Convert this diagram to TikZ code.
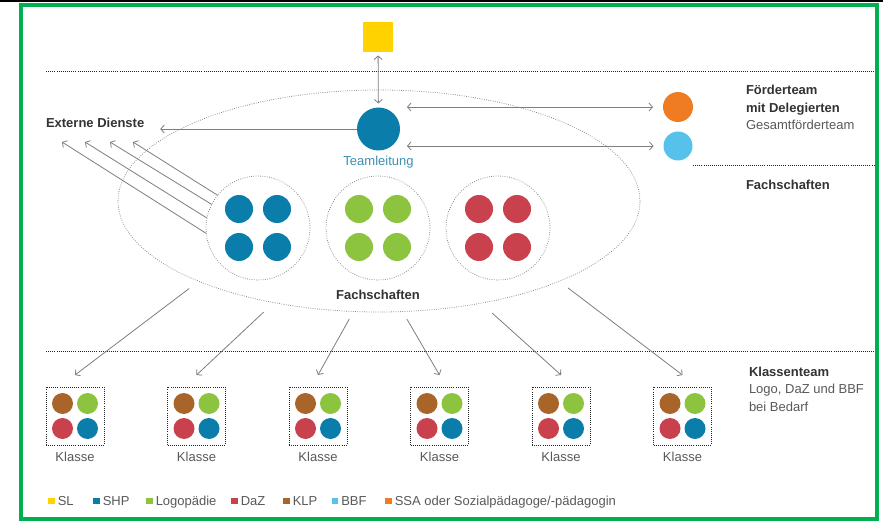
\documentclass[tikz,border=0pt]{standalone}
\usepackage{fontspec}
\setmainfont{Liberation Sans}
\usetikzlibrary{arrows.meta,shapes.geometric}
\definecolor{slyellow}{HTML}{FFD200}
\definecolor{shpblue}{HTML}{0A7DAB}
\definecolor{logogreen}{HTML}{8CC43F}
\definecolor{dazred}{HTML}{C9414D}
\definecolor{klpbrown}{HTML}{A9642A}
\definecolor{bbfblue}{HTML}{56C2EC}
\definecolor{ssaorange}{HTML}{EF7B22}
\definecolor{framegreen}{HTML}{00B050}
\definecolor{tlteal}{HTML}{3E8FB2}
\definecolor{arrowgray}{HTML}{7E7E7E}
\def\fourdots(#1,#2)(#3:#4)(#5:#6:#7:#8){%
	\fill[#5] ({#1-#3},{#2-#3}) circle (#4);
	\fill[#6] ({#1+#3},{#2-#3}) circle (#4);
	\fill[#7] ({#1-#3},{#2+#3}) circle (#4);
	\fill[#8] ({#1+#3},{#2+#3}) circle (#4);}

\begin{document}
\begin{tikzpicture}[x=1pt, y=-1pt,
		>={Straight Barb[length=3.5pt,width=8pt]},
		every node/.style={font=\fontsize{13}{16}\selectfont, inner sep=0pt, outer sep=0pt},
		hd/.style={font=\fontsize{13}{16}\selectfont\bfseries, text=black!80},
		txt/.style={text=black!65},
		conn/.style={draw=arrowgray, line width=0.8pt},
		dotrule/.style={draw=black!85, line width=0.9pt, dash pattern=on 0.9pt off 1.2pt},
		ring/.style={draw=black!50, line width=0.75pt, dash pattern=on 0.75pt off 1.5pt}]
			%%%%% START %%%%%
			
			\useasboundingbox (0,0) rectangle (883,521);
			\fill[white] (0,0) rectangle (883,521);
			\fill[black] (0,0) rectangle (883,2.5);
			\draw[framegreen, line width=4pt] (20.5,5.5) rectangle (877,518.5);
			
			\draw[dotrule] (46,71) -- (874,71);
			\draw[dotrule] (693,165) -- (874,165);
			\draw[dotrule] (46,351) -- (874,351);
			
			\node[fill=slyellow, minimum size=30pt] (sl) at (378,37.5) {};
			\node[circle, fill=shpblue, minimum size=43pt] (tl) at (378.5,129) {};
			\node[anchor=base, text=tlteal] (tllabel) at (378.5,165.5) {Teamleitung};
			\node[circle, fill=ssaorange, minimum size=30pt] (ssa) at (678,107) {};
			\node[circle, fill=bbfblue, minimum size=29pt] (bbf) at (678,146) {};
			\node[hd, anchor=base west] (ext) at (46,127.5) {Externe Dienste};
			
			\node[ellipse, ring, minimum width=522pt, minimum height=222pt] (fs) at (379,201) {};
			\foreach \g/\x/\c in {1/258/shpblue, 2/378/logogreen, 3/498/dazred}{
				\node[circle, ring, minimum size=104pt] (g\g) at (\x,228) {};
				\fourdots(\x,228)(19:14)(\c:\c:\c:\c)
			}
			\node[hd, anchor=base] (fslabel) at (378,299) {Fachschaften};
			
			\draw[conn, <->, shorten <=3pt, shorten >=4pt] (sl) -- (tl);
			\draw[conn, ->, shorten >=16pt] (tl) -- (ext.east |- tl);
			\draw[conn, <->, shorten <=7pt, shorten >=10pt] (tl.east |- ssa) -- (ssa);
			\draw[conn, <->, shorten <=7pt, shorten >=10pt] (tl.east |- bbf) -- (bbf);
			
			\coordinate (e1) at (62,142);
			\coordinate (e2) at (85,142);
			\coordinate (e3) at (110,142);
			\coordinate (e4) at (133,142);
			\foreach \i/\a in {1/186, 2/169, 3/153, 4/141}
				\draw[conn, ->] (g1.\a) -- (e\i);
			
			% Klassen
			\foreach \k/\x in {1/75, 2/196.5, 3/318, 4/439.5, 5/561, 6/682.5}{
				\node[dotrule, minimum size=58pt] (k\k) at (\x,416) {};
				\fourdots(\x,416)(12.5:10.5)(klpbrown:logogreen:dazred:shpblue)
				\node[txt, anchor=base] (kl\k) at (\x,461.5) {Klasse};
			}
			\foreach \k/\a/\s in {1/204/12pt, 2/224/14pt, 3/257/8.5pt, 4/282/8.5pt, 5/315/15pt, 6/336/11pt}
				\draw[conn, ->, shorten <=\s] (fs.\a) -- ([yshift=12pt]k\k.north);
			
			\node[hd, anchor=base west] (ft1) at (746,95) {Förderteam};
			\node[hd, anchor=base west] (ft2) at (746,113) {mit Delegierten};
			\node[txt, anchor=base west] (ft3) at (746,130) {Gesamtförderteam};
			\node[hd, anchor=base west] (fsr) at (746,189.5) {Fachschaften};
			\node[hd, anchor=base west] (kt1) at (749,376.5) {Klassenteam};
			\node[txt, anchor=base west] (kt2) at (749,393.5) {Logo, DaZ und BBF};
			\node[txt, anchor=base west] (kt3) at (749,411) {bei Bedarf};
			
			% Legende
			\foreach \i/\x/\c/\t in {1/51.5/slyellow/SL, 2/96.5/shpblue/SHP, 3/149.5/logogreen/Logopädie, 4/234.5/dazred/DaZ, 5/286.5/klpbrown/KLP, 6/335/bbfblue/BBF, 7/388.5/ssaorange/{SSA oder Sozialpädagoge/-pädagogin}}{
				\node[fill=\c, minimum size=6.5pt] (lq\i) at (\x,501) {};
				\path (lq\i.east) ++(3,4) node[txt, anchor=base west] (lt\i) {\t};
			}
			
			%%%%% END %%%%%
		\end{tikzpicture}
\end{document}
